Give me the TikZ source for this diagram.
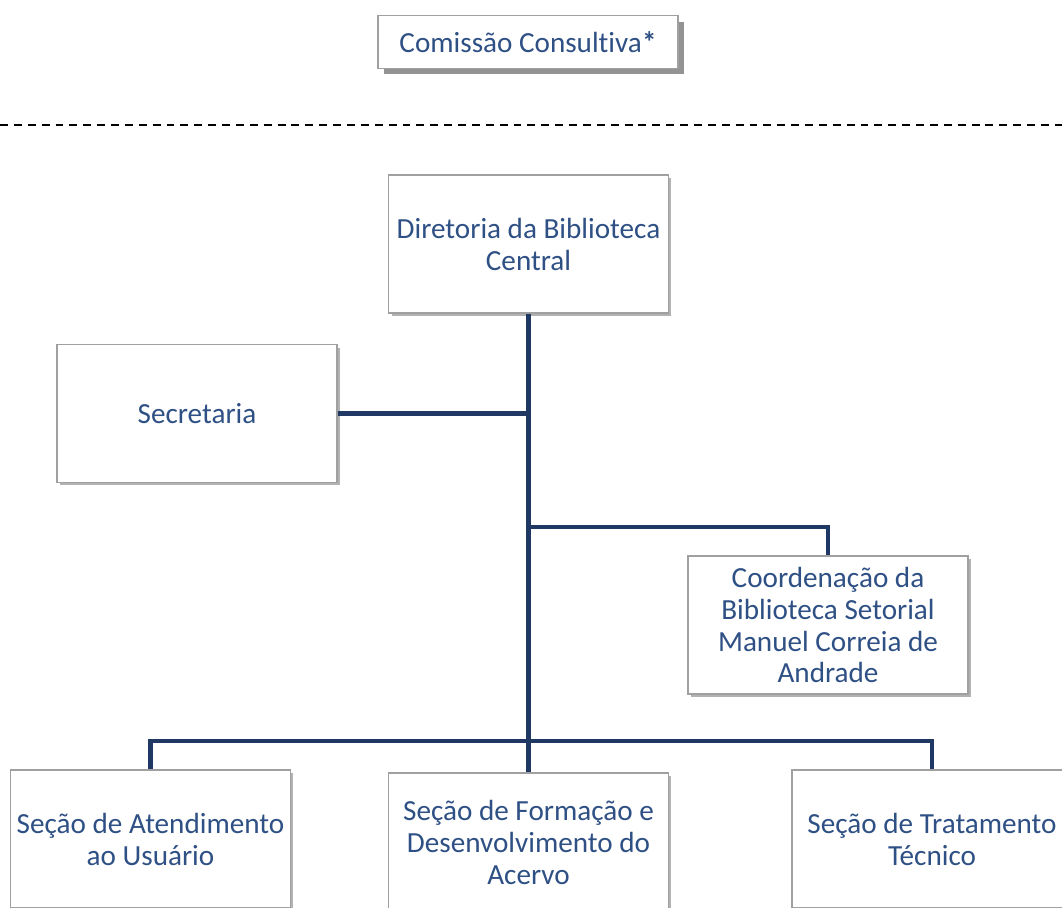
\documentclass[tikz,border=0pt]{standalone}
\usepackage{fontspec}
\setmainfont[Ligatures={NoCommon}]{Carlito}
\usetikzlibrary{shadows}
\definecolor{chartblue}{RGB}{46,80,132}
\definecolor{linkblue}{RGB}{31,56,100}
\definecolor{boxgray}{RGB}{160,160,160}
\tikzset{
    unit/.style={draw=boxgray,line width=0.8pt,fill=white,text=chartblue,align=center,
        inner sep=0pt,font=\fontsize{16.6}{18.2}\selectfont},
    softunit/.style={unit,minimum width=5.6cm,minimum height=2.76cm,
        drop shadow={shadow xshift=0.06cm,shadow yshift=-0.06cm,opacity=0.3,fill=black}},
    board/.style={unit,minimum width=6cm,minimum height=1.06cm,
        drop shadow={shadow xshift=0.12cm,shadow yshift=-0.12cm,opacity=1,fill=gray!85}},
    link/.style={draw=linkblue,line width=2.8pt},
    separator/.style={black,line width=1.1pt,dash pattern=on 4.5pt off 3.4pt}
}
\begin{document}
\begin{tikzpicture}[x=0.02cm,y=-0.02cm]
\clip (0,0) rectangle (1062,907);
\fill[white] (0,0) rectangle (1062,907);
\node[board] (comissao) at (528,42) {Comissão Consultiva\textbf{*}};
\draw[separator] (0,125) -- (1062,125);

\node[softunit] (dir) at (528.5,244) {Diretoria da Biblioteca\\Central};
\node[softunit] (sec) at (197,413.5) {Secretaria};
\node[softunit] (coord) at (828,625) {Coordenação da\\Biblioteca Setorial\\Manuel Correia de\\Andrade};
\node[softunit] (aten) at (150.5,839) {Seção de Atendimento\\ao Usuário};
\node[softunit] (forma) at (528.5,842) {Seção de Formação e\\Desenvolvimento do\\Acervo};
\node[softunit] (trat) at (932,839) {Seção de Tratamento\\Técnico};

\coordinate (branch) at (528.5,527);
\coordinate (bus) at (528.5,741);
\draw[link] (dir.south) -- (forma.north);
\draw[link] (sec.east) -- (sec.east -| dir.south);
\draw[link] (branch) -| (coord.north);
\draw[link] (aten.north) |- (bus) -| (trat.north);
\end{tikzpicture}
\end{document}
